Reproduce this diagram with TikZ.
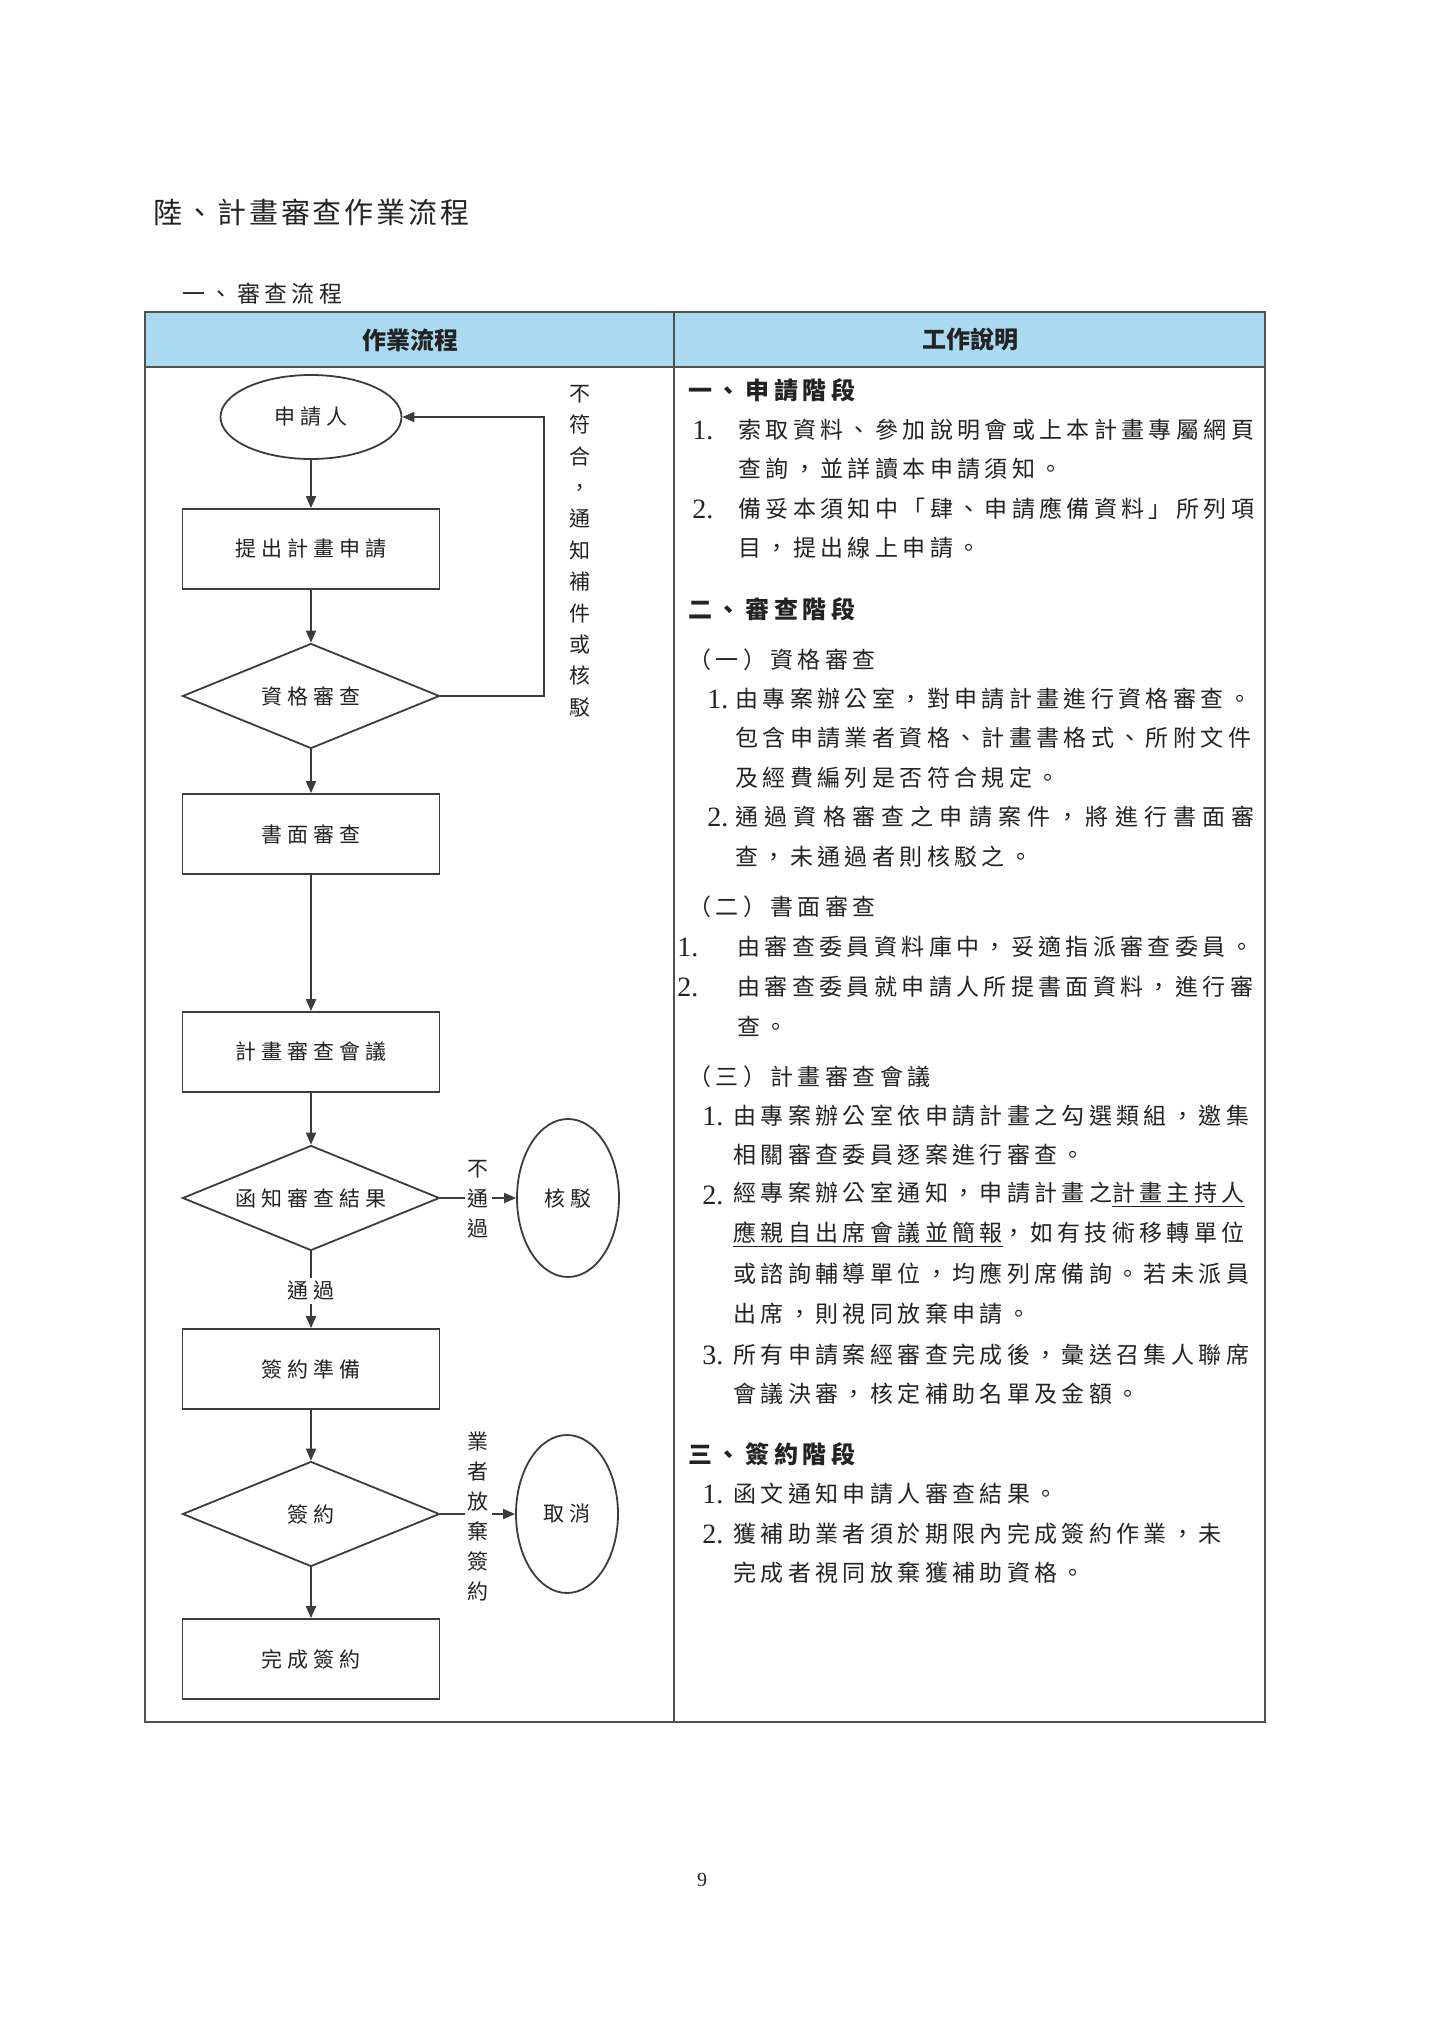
\documentclass[tikz,border=0pt]{standalone}
\usepackage{fontspec}
\usetikzlibrary{shapes.geometric,arrows.meta}
\newfontfamily\cjk[LetterSpace=19]{Noto Sans CJK TC}
\newfontfamily\cjkwide[LetterSpace=27]{Noto Sans CJK TC}
\newfontfamily\cjkflow[LetterSpace=23]{Noto Sans CJK TC}
\newfontfamily\cjktitle[LetterSpace=10]{Noto Sans CJK TC}
\newfontfamily\cjkv{Noto Sans CJK TC}
\newfontfamily\numf{Liberation Serif}
\definecolor{headblue}{RGB}{170,218,240}
\definecolor{ink}{RGB}{35,35,35}
\definecolor{lineg}{RGB}{60,60,60}
\newcommand\myflowfont{\cjkflow\fontsize{10.5}{12}\selectfont}
\newcommand\mybodyfont{\cjk\fontsize{11.5}{13}\selectfont}
\begin{document}
\begin{tikzpicture}[x=0.5pt,y=-0.5pt,
  every node/.style={text=ink},
  tbl/.style={draw=lineg!90, line width=1pt},
  arr/.style={draw=lineg, line width=0.9pt, -{Triangle[length=6pt,width=5pt]}},
  box/.style={draw=lineg, line width=0.9pt, rectangle, minimum width=128.5pt, minimum height=40pt, inner sep=0pt, font=\myflowfont},
  dia/.style={draw=lineg, line width=0.9pt, diamond, aspect=2.45, minimum width=128.5pt, minimum height=52.5pt, inner sep=0pt, font=\myflowfont},
  ell/.style={draw=lineg, line width=0.9pt, ellipse, inner sep=0pt, font=\myflowfont},
  vlab/.style={align=center, inner sep=0pt, font=\cjkv\fontsize{10.5}{15.7}\selectfont},
  vlabw/.style={align=center, inner sep=1.5pt, fill=white, font=\cjkv\fontsize{10.5}{15}\selectfont},
  hlabw/.style={inner sep=1.5pt, fill=white, font=\myflowfont},
  body/.style={anchor=west, inner sep=0pt, font=\mybodyfont},
  bhead/.style={anchor=west, inner sep=0pt, font=\cjk\bfseries\fontsize{12}{13}\selectfont},
  num/.style={anchor=west, inner sep=0pt, font=\numf\fontsize{14}{15}\selectfont},
  hdr/.style={inner sep=0pt, font=\cjkv\bfseries\fontsize{12}{13}\selectfont}
]
\fill[white] (0,0) rectangle (1440,2037);
\useasboundingbox (0,0) rectangle (1440,2037);

% titles
\node[anchor=west, inner sep=0pt, font=\cjktitle\fontsize{14.5}{16}\selectfont] (title) at (153,212) {陸、計畫審查作業流程};
\node[anchor=west, inner sep=0pt, font=\cjk\fontsize{11.5}{13}\selectfont] (sub) at (182,294) {一、審查流程};

% table
\fill[headblue] (145,312) rectangle (1265,367);
\draw[tbl] (145,312) rectangle (1265,1722);
\draw[tbl] (145,367) -- (1265,367);
\draw[tbl] (674,312) -- (674,1722);
\node[hdr] (hd1) at (410,340) {作業流程};
\node[hdr] (hd2) at (970,340) {工作說明};

% flow
\node[ell, minimum width=90.5pt, minimum height=42pt] (appl) at (311,417) {申請人};
\node[box] (submit) at (311,549) {提出計畫申請};
\node[dia] (qual) at (311,696) {資格審查};
\node[box] (paper) at (311,834) {書面審查};
\node[box] (meet) at (311,1052) {計畫審查會議};
\node[dia] (notify) at (311,1198) {函知審查結果};
\node[ell, minimum width=51pt, minimum height=79pt] (reject) at (568,1198) {核駁};
\node[box] (prep) at (311,1369) {簽約準備};
\node[dia] (sign) at (311,1514) {簽約};
\node[ell, minimum width=51pt, minimum height=79pt] (cancel) at (567,1514) {取消};
\node[box] (done) at (311,1659) {完成簽約};

\coordinate (fb) at (544,417);
\draw[arr] (appl) -- (submit);
\draw[arr] (submit) -- (qual);
\draw[arr] (qual.east) -| (fb) -- (appl.east);
\draw[arr] (qual) -- (paper);
\draw[arr] (paper) -- (meet);
\draw[arr] (meet) -- (notify);
\draw[arr] (notify.east) -- (reject.west);
\draw[arr] (notify) -- (prep);
\draw[arr] (prep) -- (sign);
\draw[arr] (sign.east) -- (cancel.west);
\draw[arr] (sign) -- (done);

\node[vlab] (lab1) at (580,551) {不\\符\\合\\，\\通\\知\\補\\件\\或\\核\\駁};
\node[vlabw] (lab2) at (478,1199) {不\\通\\過};
\node[hlabw] (lab3) at (311,1291) {通過};
\node[vlabw] (lab4) at (478,1516) {業\\者\\放\\棄\\簽\\約};

% right column
\node[bhead] (s1) at (688,390) {一、申請階段};
\node[num] (n11) at (692,430) {1.};
\node[body] (t11) at (738,430) {索取資料、參加說明會或上本計畫專屬網頁};
\node[body] (t12) at (738,469) {查詢，並詳讀本申請須知。};
\node[num] (n12) at (692,509) {2.};
\node[body] (t13) at (738,509) {備妥本須知中「肆、申請應備資料」所列項};
\node[body] (t14) at (738,548) {目，提出線上申請。};

\node[bhead] (s2) at (688,609) {二、審查階段};
\node[body] (p1) at (688,660) {（一）資格審查};
\node[num] (n21) at (707,699) {1.};
\node[body] (t21) at (735,699) {由專案辦公室，對申請計畫進行資格審查。};
\node[body] (t22) at (735,738) {包含申請業者資格、計畫書格式、所附文件};
\node[body] (t23) at (735,778) {及經費編列是否符合規定。};
\node[num] (n22) at (707,817) {2.};
\node[body, font=\cjkwide\fontsize{11.5}{13}\selectfont] (t24) at (735,817) {通過資格審查之申請案件，將進行書面審};
\node[body] (t25) at (735,857) {查，未通過者則核駁之。};

\node[body] (p2) at (688,907) {（二）書面審查};
\node[num] (n31) at (677,947) {1.};
\node[body] (t31) at (737,947) {由審查委員資料庫中，妥適指派審查委員。};
\node[num] (n32) at (677,987) {2.};
\node[body] (t32) at (737,987) {由審查委員就申請人所提書面資料，進行審};
\node[body] (t33) at (737,1026) {查。};

\node[body] (p3) at (688,1077) {（三）計畫審查會議};
\node[num] (n41) at (702,1116) {1.};
\node[body] (t41) at (733,1116) {由專案辦公室依申請計畫之勾選類組，邀集};
\node[body] (t42) at (733,1155) {相關審查委員逐案進行審查。};
\node[num] (n42) at (702,1195) {2.};
\node[body] (t43) at (733,1195) {經專案辦公室通知，申請計畫之\underline{計畫主持人}};
\node[body] (t44) at (733,1235) {\underline{應親自出席會議並簡報}，如有技術移轉單位};
\node[body] (t45) at (733,1274) {或諮詢輔導單位，均應列席備詢。若未派員};
\node[body] (t46) at (733,1314) {出席，則視同放棄申請。};
\node[num] (n43) at (702,1355) {3.};
\node[body] (t47) at (733,1355) {所有申請案經審查完成後，彙送召集人聯席};
\node[body] (t48) at (733,1394) {會議決審，核定補助名單及金額。};

\node[bhead] (s3) at (688,1454) {三、簽約階段};
\node[num] (n51) at (702,1494) {1.};
\node[body] (t51) at (733,1494) {函文通知申請人審查結果。};
\node[num] (n52) at (702,1534) {2.};
\node[body] (t52) at (733,1534) {獲補助業者須於期限內完成簽約作業，未};
\node[body] (t53) at (733,1573) {完成者視同放棄獲補助資格。};

\node[inner sep=0pt, font=\numf\fontsize{10}{12}\selectfont] (pg) at (702,1880) {9};
\end{tikzpicture}
\end{document}
